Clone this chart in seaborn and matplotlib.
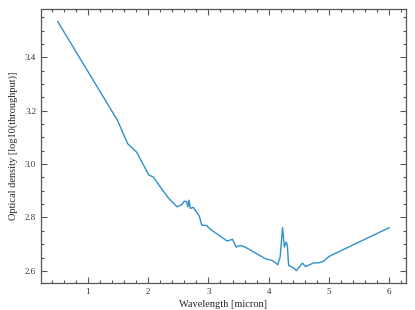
import pandas as pd
import matplotlib
matplotlib.use("Agg")
import matplotlib.pyplot as plt
from matplotlib.ticker import MultipleLocator
import seaborn as sns

# wavelength [micron] and optical density
wavelength = [0.50, 1.49, 1.66, 1.81, 2.01, 2.09, 2.20, 2.34, 2.48, 2.56, 2.60,
              2.64, 2.66, 2.68, 2.70, 2.75, 2.85, 2.89, 2.97, 3.03, 3.31, 3.40,
              3.46, 3.53, 3.61, 3.95, 4.06, 4.15, 4.19, 4.23, 4.26, 4.29, 4.31,
              4.33, 4.39, 4.46, 4.56, 4.61, 4.75, 4.83, 4.91, 5.00, 6.00]
optical_density = [3.535, 3.165, 3.077, 3.045, 2.960, 2.951, 2.915, 2.872, 2.840,
                   2.849, 2.861, 2.859, 2.840, 2.865, 2.834, 2.838, 2.805, 2.771,
                   2.770, 2.756, 2.712, 2.718, 2.689, 2.695, 2.689, 2.645, 2.639,
                   2.623, 2.652, 2.762, 2.689, 2.708, 2.695, 2.620, 2.614, 2.601,
                   2.629, 2.616, 2.630, 2.630, 2.636, 2.654, 2.762]

sns.set_style("ticks")
plt.rcParams["font.family"] = ["Liberation Serif", "DejaVu Serif"]


def main():
    df = pd.DataFrame({"wl": wavelength, "od": optical_density})

    fig = plt.figure(figsize=(4.15, 3.10), dpi=100)
    ax = fig.add_axes([0.099, 0.087, 0.879, 0.884])
    sns.lineplot(data=df, x="wl", y="od", ax=ax, color="#2f8fcc", linewidth=1.0)

    ax.set_xlabel("Wavelength [micron]", fontsize=7.5, labelpad=3)
    ax.set_ylabel("Optical density [log10(throughput)]", fontsize=7.5, labelpad=5)
    ax.xaxis.set_major_locator(MultipleLocator(1))
    ax.xaxis.set_minor_locator(MultipleLocator(0.2))
    ax.yaxis.set_major_locator(MultipleLocator(0.2))
    ax.yaxis.set_minor_locator(MultipleLocator(0.05))
    ax.tick_params(which="both", direction="in", top=True, right=True,
                   labelsize=6.5, colors="#555555", labelcolor="#333333", width=0.8)
    ax.tick_params(which="major", length=4)
    ax.tick_params(which="minor", length=2)
    for s in ax.spines.values():
        s.set_color("#555555")
        s.set_linewidth(0.9)
    ax.margins(x=0.05, y=0.05)

    fig.savefig("out.png", dpi=100)
    plt.close(fig)


if __name__ == "__main__":
    main()
